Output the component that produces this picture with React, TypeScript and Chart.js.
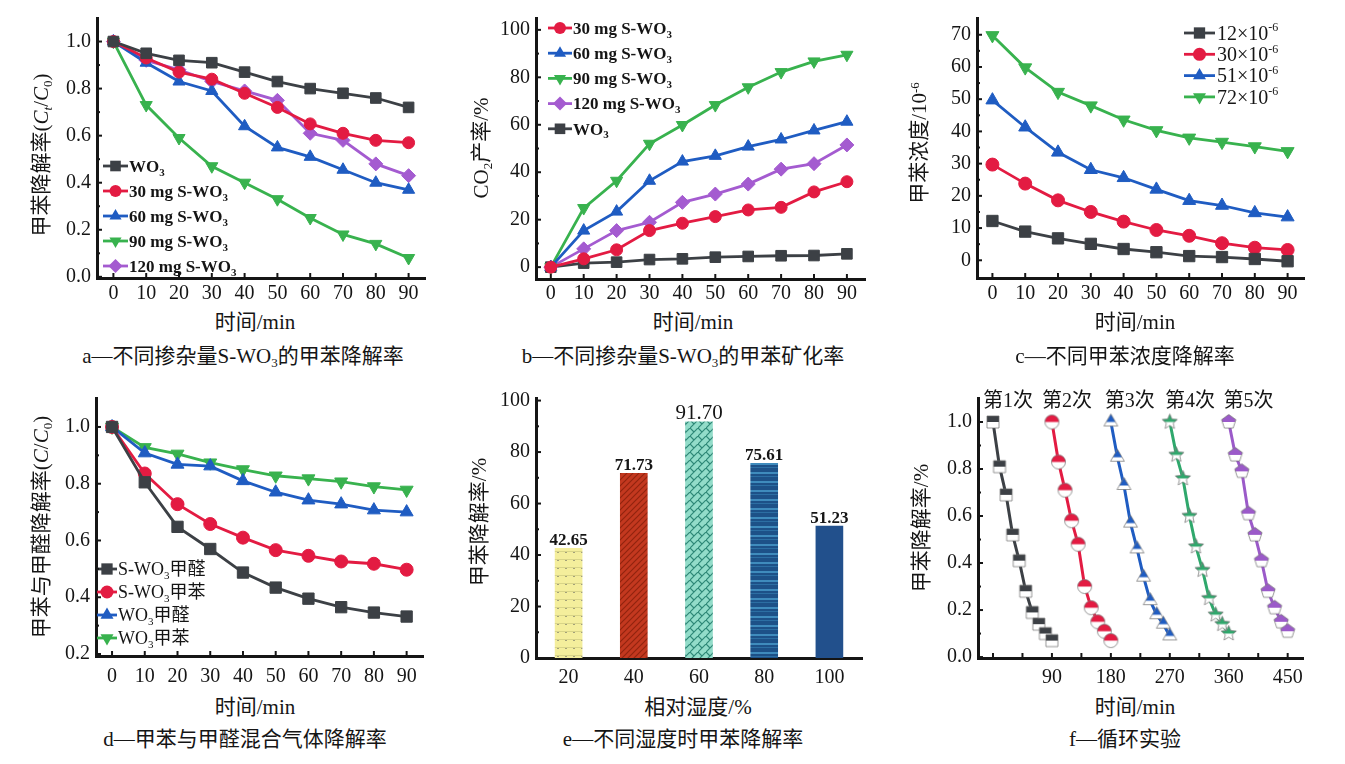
import React, { useEffect, useRef } from 'react';
import { Chart, registerables } from 'chart.js';
Chart.register(...registerables);

const SERIF = '"Liberation Serif", "Noto Sans CJK SC", serif';
const INK = '#151515';
const DARK = '#3c4045';
const RED = '#e31b42';
const BLUE = '#1f5cc2';
const GREEN = '#38b24e';
const PURPLE = '#a45bd0';
const F_GREEN = '#2fa86c';
const F_PURPLE = '#9b5ac9';

// ---------- data ----------
const timeMin = [0, 10, 20, 30, 40, 50, 60, 70, 80, 90];

// a
const aWO3 = [1.0, 0.95, 0.92, 0.91, 0.87, 0.83, 0.8, 0.78, 0.76, 0.72];
const a30 = [1.0, 0.93, 0.87, 0.84, 0.78, 0.72, 0.65, 0.61, 0.58, 0.57];
const a60 = [1.0, 0.91, 0.83, 0.79, 0.64, 0.55, 0.51, 0.455, 0.4, 0.37];
const a90 = [1.0, 0.73, 0.59, 0.47, 0.4, 0.33, 0.25, 0.18, 0.14, 0.08];
const a120 = [1.0, 0.92, 0.88, 0.83, 0.79, 0.75, 0.61, 0.58, 0.48, 0.43];
const aYTicks = [0, 0.2, 0.4, 0.6, 0.8, 1.0];

// b
const b30 = [0, 3.5, 7.3, 15.4, 18.5, 21.3, 24.1, 25.2, 31.7, 36.0];
const b60 = [0, 15.4, 23.4, 36.4, 44.5, 46.9, 50.8, 53.8, 57.6, 61.3];
const b90 = [0, 24.9, 36.4, 52.0, 59.9, 68.3, 75.8, 82.2, 86.7, 89.5];
const b120 = [0, 7.7, 15.4, 18.9, 27.3, 30.8, 35.0, 41.3, 43.6, 51.5];
const bWO3 = [0, 1.7, 2.1, 3.2, 3.5, 4.2, 4.5, 4.8, 4.9, 5.6];
const bYTicks = [0, 20, 40, 60, 80, 100];

// c
const c12 = [12.2, 8.9, 6.8, 5.1, 3.5, 2.5, 1.3, 1.0, 0.4, -0.3];
const c30 = [29.7, 23.8, 18.6, 15.0, 12.0, 9.4, 7.6, 5.3, 3.9, 3.2];
const c51 = [49.7, 41.3, 33.5, 28.1, 25.6, 22.0, 18.5, 17.0, 14.7, 13.4];
const c72 = [69.8, 59.8, 52.2, 48.0, 43.6, 40.3, 38.0, 36.7, 35.3, 33.8];
const cYTicks = [0, 10, 20, 30, 40, 50, 60, 70];

// d
const dSHCHO = [1.0, 0.805, 0.648, 0.57, 0.487, 0.434, 0.395, 0.365, 0.346, 0.332];
const dSTol = [1.0, 0.836, 0.728, 0.658, 0.61, 0.566, 0.546, 0.526, 0.518, 0.497];
const dWHCHO = [1.0, 0.908, 0.868, 0.862, 0.81, 0.77, 0.742, 0.728, 0.707, 0.7];
const dWTol = [1.0, 0.928, 0.905, 0.874, 0.85, 0.828, 0.818, 0.807, 0.79, 0.778];
const dYTicks = [0.2, 0.4, 0.6, 0.8, 1.0];

// e
const humidity = ['20', '40', '60', '80', '100'];
const eRates = [42.65, 71.73, 91.7, 75.61, 51.23];
const eYTicks = [0, 20, 40, 60, 80, 100];

// f
const cycleTime = [0, 10, 20, 30, 40, 50, 60, 70, 80, 90];
const cycleStart = [0, 90, 180, 270, 360];
const f1 = [1.0, 0.81, 0.69, 0.52, 0.41, 0.28, 0.19, 0.14, 0.1, 0.07];
const f2 = [1.0, 0.83, 0.71, 0.58, 0.48, 0.3, 0.21, 0.15, 0.11, 0.07];
const f3 = [1.0, 0.85, 0.73, 0.57, 0.46, 0.34, 0.24, 0.18, 0.14, 0.09];
const f4 = [1.0, 0.86, 0.76, 0.6, 0.47, 0.37, 0.25, 0.18, 0.14, 0.1];
const f5 = [1.0, 0.86, 0.79, 0.61, 0.52, 0.41, 0.28, 0.21, 0.15, 0.11];
const cycleLabels = ['第1次', '第2次', '第3次', '第4次', '第5次'];
const cycleLabelAt = [23, 113, 209, 301, 390];
const fXTicks = [0, 45, 90, 135, 180, 225, 270, 315, 360, 405, 450];
const fYTicks = [0, 0.2, 0.4, 0.6, 0.8, 1.0];

// ---------- drawing helpers ----------
const SUB_MAP: Record<string, string> = { '₀': '0', '₁': '1', '₂': '2', '₃': '3', '₄': '4', '₅': '5', '₆': '6', '₇': '7', '₈': '8', '₉': '9' };
const SUP_MAP: Record<string, string> = { '⁻': '-', '⁰': '0', '¹': '1', '²': '2', '³': '3', '⁴': '4', '⁵': '5', '⁶': '6', '⁷': '7', '⁸': '8', '⁹': '9' };

function drawRich(ctx: CanvasRenderingContext2D, text: string, x: number, yMid: number, size: number, weight: string) {
  const runs: { t: string; k: string }[] = [];
  for (const ch of text) {
    const k = SUB_MAP[ch] ? 'sub' : SUP_MAP[ch] ? 'sup' : 'n';
    const c = SUB_MAP[ch] || SUP_MAP[ch] || ch;
    if (runs.length && runs[runs.length - 1].k === k) runs[runs.length - 1].t += c;
    else runs.push({ t: c, k });
  }
  ctx.textBaseline = 'alphabetic';
  ctx.textAlign = 'left';
  const base = yMid + size * 0.34;
  let cx = x;
  for (const r of runs) {
    const s = r.k === 'n' ? size : Math.round(size * 0.62);
    ctx.font = `${weight} ${s}px ${SERIF}`;
    const dy = r.k === 'sub' ? size * 0.22 : r.k === 'sup' ? -size * 0.42 : 0;
    ctx.fillText(r.t, cx, base + dy);
    cx += ctx.measureText(r.t).width;
  }
}

function markerPath(g: CanvasRenderingContext2D, style: string, r: number) {
  g.beginPath();
  if (style === 'rect') {
    const s = r * Math.SQRT1_2;
    g.rect(-s, -s, 2 * s, 2 * s);
  } else if (style === 'circle') {
    g.arc(0, 0, r, 0, Math.PI * 2);
  } else if (style === 'triangle') {
    for (let i = 0; i < 3; i++) {
      const a = (i * 2 * Math.PI) / 3;
      if (i === 0) g.moveTo(Math.sin(a) * r, -Math.cos(a) * r);
      else g.lineTo(Math.sin(a) * r, -Math.cos(a) * r);
    }
    g.closePath();
  } else if (style === 'rectRot') {
    g.moveTo(0, -r); g.lineTo(r, 0); g.lineTo(0, r); g.lineTo(-r, 0); g.closePath();
  } else if (style === 'star') {
    for (let i = 0; i < 10; i++) {
      const a = (i * Math.PI) / 5;
      const rr = i % 2 === 0 ? r : r * 0.45;
      if (i === 0) g.moveTo(Math.sin(a) * rr, -Math.cos(a) * rr);
      else g.lineTo(Math.sin(a) * rr, -Math.cos(a) * rr);
    }
    g.closePath();
  } else if (style === 'pentagon') {
    for (let i = 0; i < 5; i++) {
      const a = (i * 2 * Math.PI) / 5;
      if (i === 0) g.moveTo(Math.sin(a) * r, -Math.cos(a) * r);
      else g.lineTo(Math.sin(a) * r, -Math.cos(a) * r);
    }
    g.closePath();
  }
}

function drawMarker(ctx: CanvasRenderingContext2D, style: string, r: number, rot: number, color: string, x: number, y: number) {
  ctx.save();
  ctx.translate(x, y);
  ctx.rotate((rot * Math.PI) / 180);
  markerPath(ctx, style, r);
  ctx.fillStyle = color;
  ctx.fill();
  ctx.restore();
}

function halfMarker(style: string, color: string, r: number) {
  const s = Math.ceil(r * 2 + 3);
  const c = document.createElement('canvas');
  c.width = s; c.height = s;
  const g = c.getContext('2d')!;
  g.translate(s / 2, s / 2);
  markerPath(g, style, r);
  g.fillStyle = '#ffffff';
  g.fill();
  g.save();
  g.beginPath();
  g.rect(-s, -s, 2 * s, s);
  g.clip();
  markerPath(g, style, r);
  g.fillStyle = color;
  g.fill();
  g.restore();
  markerPath(g, style, r);
  g.strokeStyle = 'rgba(110,110,110,0.7)';
  g.lineWidth = 1;
  g.stroke();
  return c;
}

// ---------- plugins ----------
const inLegend = {
  id: 'inLegend',
  afterDatasetsDraw(chart: any, _a: any, o: any) {
    if (!o || o.x == null) return;
    const ctx = chart.ctx as CanvasRenderingContext2D;
    chart.data.datasets.forEach((ds: any, i: number) => {
      const y = o.y + i * o.dy;
      ctx.save();
      ctx.strokeStyle = ds.borderColor;
      ctx.lineWidth = ds.borderWidth;
      ctx.beginPath();
      ctx.moveTo(o.x, y);
      ctx.lineTo(o.x + o.len, y);
      ctx.stroke();
      drawMarker(ctx, ds.pointStyle, ds.pointRadius, ds.pointRotation || 0, ds.pointBackgroundColor, o.x + o.len / 2, y);
      ctx.fillStyle = INK;
      drawRich(ctx, ds.label, o.x + o.len + o.gap, y, o.size, o.weight);
      ctx.restore();
    });
  },
};

const inTicks = {
  id: 'inTicks',
  afterDraw(chart: any, _a: any, o: any) {
    const ctx = chart.ctx as CanvasRenderingContext2D;
    const ca = chart.chartArea;
    ctx.save();
    ctx.strokeStyle = INK;
    ctx.lineWidth = 2;
    const seg = (x1: number, y1: number, x2: number, y2: number) => {
      ctx.beginPath(); ctx.moveTo(x1, y1); ctx.lineTo(x2, y2); ctx.stroke();
    };
    const xs = chart.scales.x;
    const ys = chart.scales.y;
    (o.x || []).forEach((v: number) => { const p = xs.getPixelForValue(v); seg(p, ca.bottom, p, ca.bottom - 5); });
    const yv: number[] = o.y || [];
    yv.forEach((v: number, i: number) => {
      const p = ys.getPixelForValue(v);
      seg(ca.left, p, ca.left + 5, p);
      if (i < yv.length - 1) {
        const m = ys.getPixelForValue((v + yv[i + 1]) / 2);
        seg(ca.left, m, ca.left + 3, m);
      }
    });
    ctx.restore();
  },
};

const barLabels = {
  id: 'barLabels',
  afterDatasetsDraw(chart: any, _a: any, o: any) {
    const ctx = chart.ctx as CanvasRenderingContext2D;
    const meta = chart.getDatasetMeta(0);
    const data = chart.data.datasets[0].data;
    ctx.save();
    ctx.fillStyle = INK;
    ctx.textAlign = 'center';
    ctx.textBaseline = 'alphabetic';
    meta.data.forEach((bar: any, i: number) => {
      const plain = i === o.plainIndex;
      ctx.font = plain ? `21px ${SERIF}` : `bold 17px ${SERIF}`;
      ctx.fillText(Number(data[i]).toFixed(2), bar.x, bar.y - 3);
    });
    ctx.restore();
  },
};

const cycleText = {
  id: 'cycleText',
  afterDraw(chart: any, _a: any, o: any) {
    const ctx = chart.ctx as CanvasRenderingContext2D;
    ctx.save();
    ctx.fillStyle = INK;
    ctx.font = `20px ${SERIF}`;
    ctx.textAlign = 'center';
    ctx.textBaseline = 'middle';
    (o.labels || []).forEach((t: string, i: number) => {
      ctx.fillText(t, chart.scales.x.getPixelForValue(o.at[i]), chart.chartArea.top + 4);
    });
    ctx.restore();
  },
};

// ---------- config builders ----------
type Geo = { W: number; H: number; L: number; T: number; R: number; B: number };

function series(label: string, xs: number[], ys: number[], color: string, style: any, r: number, rot = 0) {
  return {
    label,
    data: xs.map((x, i) => ({ x, y: ys[i] })),
    borderColor: color,
    backgroundColor: color,
    pointBackgroundColor: color,
    pointBorderColor: color,
    pointBorderWidth: 1,
    pointStyle: style,
    pointRadius: r,
    pointRotation: rot,
    borderWidth: 2.8,
    tension: 0,
    fill: false,
  };
}

const tickFont = { family: SERIF, size: 20 };

function axis(geo: Geo, which: 'x' | 'y', range: number[], ticks: number[], fmt: (v: number) => string, pad: number) {
  return {
    type: 'linear',
    min: range[0],
    max: range[1],
    afterBuildTicks: (s: any) => { s.ticks = ticks.map((v) => ({ value: v })); },
    afterFit: (s: any) => { if (which === 'x') s.height = geo.H - geo.B; else s.width = geo.L; },
    grid: { display: false, drawTicks: false, tickLength: 0 },
    border: { display: true, color: INK, width: 3 },
    ticks: { padding: pad, font: tickFont, color: INK, autoSkip: false, maxRotation: 0, callback: (v: any) => fmt(Number(v)) },
  };
}

function lineConfig(geo: Geo, datasets: any[], xr: number[], yr: number[], xTicks: number[], yTicks: number[], xFmt: (v: number) => string, yFmt: (v: number) => string, xPad: number, legend: any, extra: any = {}) {
  return {
    type: 'line',
    data: { datasets },
    options: {
      animation: false,
      responsive: false,
      events: [],
      layout: { padding: { left: 0, top: geo.T, right: geo.W - geo.R, bottom: 0 } },
      plugins: {
        legend: { display: false },
        tooltip: { enabled: false },
        inLegend: legend || {},
        inTicks: { x: xTicks, y: yTicks },
        ...extra,
      },
      scales: {
        x: axis(geo, 'x', xr, xTicks, xFmt, xPad),
        y: axis(geo, 'y', yr, yTicks, yFmt, 6),
      },
    },
    plugins: [inLegend, inTicks, cycleText],
  };
}

const int = (v: number) => String(Math.round(v));
const one = (v: number) => v.toFixed(1);

const GA: Geo = { W: 450, H: 310, L: 97, T: 13, R: 425, B: 278 };
const GB: Geo = { W: 450, H: 310, L: 86, T: 16, R: 415, B: 279 };
const GC: Geo = { W: 450, H: 310, L: 82, T: 13, R: 409, B: 278 };
const GD: Geo = { W: 450, H: 310, L: 96, T: 12, R: 423, B: 276 };
const GE: Geo = { W: 450, H: 310, L: 86, T: 13, R: 412, B: 278 };
const GF: Geo = { W: 450, H: 310, L: 83, T: 15, R: 408, B: 278 };

const makeA = () =>
  lineConfig(GA, [
    series('WO₃', timeMin, aWO3, DARK, 'rect', 7.5),
    series('30 mg S-WO₃', timeMin, a30, RED, 'circle', 6),
    series('60 mg S-WO₃', timeMin, a60, BLUE, 'triangle', 7),
    series('90 mg S-WO₃', timeMin, a90, GREEN, 'triangle', 7, 180),
    series('120 mg S-WO₃', timeMin, a120, PURPLE, 'rectRot', 7),
  ], [-5, 95], [-0.005, 1.1], timeMin, aYTicks, int, one, 4,
  { x: 103, y: 166, dy: 25, len: 25, gap: 1, size: 17, weight: 'bold' });

const makeB = () =>
  lineConfig(GB, [
    series('30 mg S-WO₃', timeMin, b30, RED, 'circle', 6),
    series('60 mg S-WO₃', timeMin, b60, BLUE, 'triangle', 7),
    series('90 mg S-WO₃', timeMin, b90, GREEN, 'triangle', 7, 180),
    series('120 mg S-WO₃', timeMin, b120, PURPLE, 'rectRot', 7),
    series('WO₃', timeMin, bWO3, DARK, 'rect', 7.5),
  ], [-4.5, 95.5], [-5, 105], timeMin, bYTicks, int, int, 3,
  { x: 98, y: 28, dy: 25.2, len: 24, gap: 1, size: 17, weight: 'bold' });

const makeC = () =>
  lineConfig(GC, [
    series('12×10⁻⁶', timeMin, c12, DARK, 'rect', 8),
    series('30×10⁻⁶', timeMin, c30, RED, 'circle', 6.5),
    series('51×10⁻⁶', timeMin, c51, BLUE, 'triangle', 7.5),
    series('72×10⁻⁶', timeMin, c72, GREEN, 'triangle', 7.5, 180),
  ], [-4.7, 95], [-5.5, 75.2], timeMin, cYTicks, int, int, 4,
  { x: 289, y: 33, dy: 21.3, len: 31, gap: 2, size: 20, weight: 'normal' });

const makeD = () =>
  lineConfig(GD, [
    series('S-WO₃甲醛', timeMin, dSHCHO, DARK, 'rect', 8),
    series('S-WO₃甲苯', timeMin, dSTol, RED, 'circle', 6.5),
    series('WO₃甲醛', timeMin, dWHCHO, BLUE, 'triangle', 7.5),
    series('WO₃甲苯', timeMin, dWTol, GREEN, 'triangle', 7.5, 180),
  ], [-4.9, 95], [0.193, 1.102], timeMin, dYTicks, int, one, 9,
  { x: 97, y: 189, dy: 23, len: 20, gap: 1, size: 18, weight: 'normal' });

const makeF = () => {
  const cycles = [f1, f2, f3, f4, f5];
  const colors = [DARK, RED, BLUE, F_GREEN, F_PURPLE];
  const shapes = ['rect', 'circle', 'triangle', 'star', 'pentagon'];
  const radii = [8.5, 7, 8, 8, 7.5];
  const ds = cycles.map((ys, k) => {
    const s: any = series(cycleLabels[k], cycleTime.map((t) => t + cycleStart[k]), ys, colors[k], halfMarker(shapes[k], colors[k], radii[k]), 8);
    s.borderWidth = 3;
    return s;
  });
  return lineConfig(GF, ds, [-22.9, 473.4], [-0.004, 1.102], fXTicks, fYTicks,
    (v) => (v > 0 && v % 90 === 0 ? String(v) : ''), one, 8, null,
    { cycleText: { labels: cycleLabels, at: cycleLabelAt } });
};

function makePattern(ctx: CanvasRenderingContext2D, w: number, h: number, draw: (g: CanvasRenderingContext2D) => void) {
  const c = document.createElement('canvas');
  c.width = w; c.height = h;
  const g = c.getContext('2d')!;
  draw(g);
  return ctx.createPattern(c, 'repeat');
}

const makeE = (ctx: CanvasRenderingContext2D) => {
  const yellow = makePattern(ctx, 8, 8, (g) => {
    g.fillStyle = '#f4ee9c'; g.fillRect(0, 0, 8, 8);
    g.fillStyle = '#a3a17a'; g.fillRect(3, 3, 2, 2);
    g.fillStyle = '#d8d488'; g.fillRect(0, 3, 8, 1);
  });
  const red = makePattern(ctx, 6, 6, (g) => {
    g.fillStyle = '#c3381f'; g.fillRect(0, 0, 6, 6);
    g.strokeStyle = '#92240f'; g.lineWidth = 1.2;
    g.beginPath(); g.moveTo(0, 6); g.lineTo(6, 0); g.moveTo(-3, 3); g.lineTo(3, -3); g.moveTo(3, 9); g.lineTo(9, 3); g.stroke();
  });
  const teal = makePattern(ctx, 8, 8, (g) => {
    g.fillStyle = '#92dcc9'; g.fillRect(0, 0, 8, 8);
    g.strokeStyle = '#2e8877'; g.lineWidth = 1.2;
    g.beginPath(); g.moveTo(0, 8); g.lineTo(8, 0); g.moveTo(0, 0); g.lineTo(4, 4); g.stroke();
  });
  const stripes = makePattern(ctx, 4, 9, (g) => {
    g.fillStyle = '#1d5188'; g.fillRect(0, 0, 4, 9);
    g.fillStyle = '#3f8bbd'; g.fillRect(0, 2, 4, 2);
    g.fillStyle = '#2c6ea3'; g.fillRect(0, 6, 4, 1);
  });
  return {
    type: 'bar',
    data: {
      labels: humidity,
      datasets: [{ data: eRates, backgroundColor: [yellow, red, teal, stripes, '#22508c'], borderWidth: 0, barThickness: 27 }],
    },
    options: {
      animation: false,
      responsive: false,
      events: [],
      layout: { padding: { left: 0, top: GE.T, right: GE.W - GE.R, bottom: 0 } },
      plugins: {
        legend: { display: false },
        tooltip: { enabled: false },
        barLabels: { plainIndex: 2 },
        inTicks: { y: eYTicks },
      },
      scales: {
        x: {
          type: 'category',
          offset: true,
          afterFit: (s: any) => { s.height = GE.H - GE.B; },
          grid: { display: false, drawTicks: false, tickLength: 0 },
          border: { display: true, color: INK, width: 3 },
          ticks: { padding: 8, font: tickFont, color: INK, autoSkip: false, maxRotation: 0 },
        },
        y: axis(GE, 'y', [0, 101], eYTicks, int, 6),
      },
    },
    plugins: [barLabels, inTicks],
  };
};

// ---------- components ----------
function ChartBox({ left, top, w, h, make }: { left: number; top: number; w: number; h: number; make: (ctx: CanvasRenderingContext2D) => any }) {
  const ref = useRef<HTMLCanvasElement>(null);
  useEffect(() => {
    const cv = ref.current!;
    const chart = new Chart(cv, make(cv.getContext('2d')!));
    return () => chart.destroy();
  }, []);
  return <canvas ref={ref} width={w} height={h} style={{ position: 'absolute', left, top, width: w, height: h }} />;
}

function Lbl({ x, y, rot, size = 21, children }: any) {
  return (
    <div style={{ position: 'absolute', left: x, top: y, transform: `translate(-50%, -50%)${rot ? ' rotate(-90deg)' : ''}`, whiteSpace: 'nowrap', fontSize: size, lineHeight: 1.2 }}>
      {children}
    </div>
  );
}
const Sub = ({ children }: any) => <span style={{ fontSize: '0.62em', position: 'relative', top: '0.32em' }}>{children}</span>;
const Sup = ({ children }: any) => <span style={{ fontSize: '0.62em', position: 'relative', top: '-0.55em' }}>{children}</span>;

export default function App() {
  return (
    <div style={{ position: 'absolute', left: 0, top: 0, width: 1345, height: 764, background: '#fff', overflow: 'hidden', fontFamily: SERIF, color: INK }}>
      <ChartBox left={0} top={0} w={450} h={310} make={makeA} />
      <ChartBox left={450} top={0} w={450} h={310} make={makeB} />
      <ChartBox left={895} top={0} w={450} h={310} make={makeC} />
      <ChartBox left={0} top={380} w={450} h={310} make={makeD} />
      <ChartBox left={450} top={380} w={450} h={310} make={makeE} />
      <ChartBox left={895} top={380} w={450} h={310} make={makeF} />

      <Lbl x={42} y={155} rot>甲苯降解率(<i>C</i><Sub><i>t</i></Sub>/<i>C</i><Sub>0</Sub>)</Lbl>
      <Lbl x={255} y={323}>时间/min</Lbl>
      <Lbl x={243} y={357}>a—不同掺杂量S-WO<Sub>3</Sub>的甲苯降解率</Lbl>

      <Lbl x={482} y={148} rot>CO<Sub>2</Sub>产率/%</Lbl>
      <Lbl x={693} y={323}>时间/min</Lbl>
      <Lbl x={683} y={357}>b—不同掺杂量S-WO<Sub>3</Sub>的甲苯矿化率</Lbl>

      <Lbl x={920} y={143} rot>甲苯浓度/10<Sup>-6</Sup></Lbl>
      <Lbl x={1135} y={323}>时间/min</Lbl>
      <Lbl x={1125} y={357}>c—不同甲苯浓度降解率</Lbl>

      <Lbl x={42} y={527} rot>甲苯与甲醛降解率(<i>C</i>/<i>C</i><Sub>0</Sub>)</Lbl>
      <Lbl x={255} y={708}>时间/min</Lbl>
      <Lbl x={245} y={740}>d—甲苯与甲醛混合气体降解率</Lbl>

      <Lbl x={480} y={522} rot>甲苯降解率/%</Lbl>
      <Lbl x={698} y={708}>相对湿度/%</Lbl>
      <Lbl x={683} y={740}>e—不同湿度时甲苯降解率</Lbl>

      <Lbl x={922} y={528} rot>甲苯降解率/%</Lbl>
      <Lbl x={1135} y={708}>时间/min</Lbl>
      <Lbl x={1125} y={740}>f—循环实验</Lbl>
    </div>
  );
}
